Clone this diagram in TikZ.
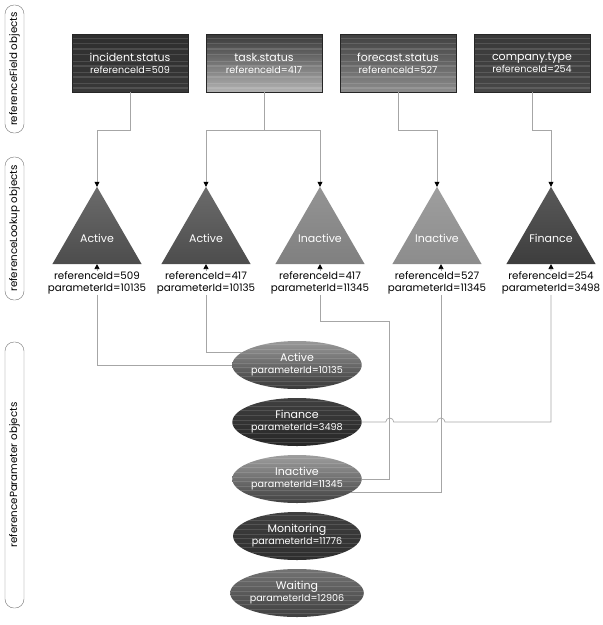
\documentclass[tikz,border=0pt]{standalone}
\usepackage{fontspec}
\setmainfont{Poppins}
\usetikzlibrary{shapes.geometric,positioning,calc,arrows.meta}

\newcommand{\ttl}[1]{{\fontsize{11}{13}\selectfont #1}}
\newcommand{\subtxt}[1]{{\fontsize{9.6}{12}\selectfont #1}}

\tikzset{
  band/.style={draw=black!55, rotate=90, rounded corners=9pt, minimum height=19pt,
    inner sep=0pt, font=\fontsize{10.3}{11}\selectfont},
  stripes/.style={path picture={
      \foreach \f in {0.08,0.17,0.26,0.36,0.47,0.55,0.66,0.74,0.85,0.93}
        \draw[white, opacity=0.13, line width=1.2pt]
          ($(path picture bounding box.north west)!\f!(path picture bounding box.south west)$) --
          ($(path picture bounding box.north east)!\f!(path picture bounding box.south east)$);}},
  fieldbox/.style={draw=black!85, line width=0.6pt, minimum width=116pt, minimum height=58pt,
    inner sep=0pt, outer sep=0pt, text=white, align=center, stripes},
  lookup/.style={regular polygon, regular polygon sides=3, minimum size=103pt,
    inner sep=0pt, outer sep=0pt, text=white, font=\fontsize{11}{13}\selectfont},
  param/.style={ellipse, minimum width=125pt, minimum height=48pt, inner sep=0pt,
    outer sep=0pt, text=white, align=center, stripes},
  lbl/.style={fill=white, inner sep=0.5pt, align=center, font=\fontsize{10.3}{12}\selectfont},
  conn/.style={draw=black!35, line width=0.7pt},
}

\begin{document}
\begin{tikzpicture}[x=1pt, y=-1pt, >={Triangle[length=5pt,width=5pt,color=black]}]
  \useasboundingbox (0,0) rectangle (603,625);

  % bands
  \node[band, minimum width=128pt] (b1) at (14.5,69) {referenceField objects};
  \node[band, minimum width=143pt] (b2) at (14.5,228.5) {referenceLookup objects};
  \node[band, minimum width=266pt] (b3) at (14.5,475) {referenceParameter objects};

  % referenceField row
  \node[fieldbox, top color=black!82, bottom color=black!78] (f1) at (130,63)
    {\ttl{incident.status}\\\subtxt{referenceId=509}};
  \node[fieldbox, top color=black!78, bottom color=black!30, right=18pt of f1] (f2)
    {\ttl{task.status}\\\subtxt{referenceId=417}};
  \node[fieldbox, top color=black!75, bottom color=black!45, right=18pt of f2] (f3)
    {\ttl{forecast.status}\\\subtxt{referenceId=527}};
  \node[fieldbox, top color=black!78, bottom color=black!72, right=18pt of f3] (f4)
    {\ttl{company.type}\\\subtxt{referenceId=254}};

  % referenceLookup row
  \node[lookup, top color=black!58, bottom color=black!70] (t1) at (97,238.3) {\makebox[0pt]{Active}};
  \node[lookup, top color=black!58, bottom color=black!70] (t2) at (206,238.3) {\makebox[0pt]{Active}};
  \node[lookup, top color=black!42, bottom color=black!50] (t3) at (320,238.3) {\makebox[0pt]{Inactive}};
  \node[lookup, top color=black!38, bottom color=black!45] (t4) at (437,238.3) {\makebox[0pt]{Inactive}};
  \node[lookup, top color=black!65, bottom color=black!76] (t5) at (551,238.3) {\makebox[0pt]{Finance}};

  % referenceParameter column
  \node[param, top color=black!40, bottom color=black!78] (act) at (297,365)
    {\ttl{Active}\\\subtxt{parameterId=10135}};
  \node[param, top color=black!75, bottom color=black!85, below=9pt of act] (fin)
    {\ttl{Finance}\\\subtxt{parameterId=3498}};
  \node[param, top color=black!38, bottom color=black!75, below=9pt of fin] (ina)
    {\ttl{Inactive}\\\subtxt{parameterId=11345}};
  \node[param, top color=black!75, bottom color=black!82, below=9pt of ina] (mon)
    {\ttl{Monitoring}\\\subtxt{parameterId=11776}};
  \node[param, top color=black!55, bottom color=black!75, below=9pt of mon] (wai)
    {\ttl{Waiting}\\\subtxt{parameterId=12906}};

  % field -> lookup
  \draw[conn, ->] (f1.south) -- ++(0,38) -| (t1.north);
  \draw[conn, ->] (f2.south) -- ++(0,38) -| (t2.north);
  \draw[conn, ->] (f2.south) -- ++(0,38) -| (t3.north);
  \draw[conn, ->] (f3.south) -- ++(0,38) -| (t4.north);
  \draw[conn, ->] (f4.south) -- ++(0,38) -| (t5.north);

  % lookup -> parameter
  \coordinate (k3) at ([xshift=28pt]ina.east);
  \coordinate (k4) at ([xshift=4pt]t4.south);
  \draw[conn, <-] (t1.south) |- (act.west);
  \draw[conn, <-] (t2.south) |- (act.167);
  \draw[conn, <-] (t3.south) -- ++(0,57) -| (k3) -- (ina.east);
  \draw[conn, <-] (k4) |- (ina.-14);
  \draw[conn, <-] (t5.south) -- (t5.south |- fin.east)
    -- ($(k4 |- fin.east)+(4,0)$) arc[start angle=0, end angle=-180, radius=4]
    -- ($(k3 |- fin.east)+(4,0)$) arc[start angle=0, end angle=-180, radius=4]
    -- (fin.east);

  % lookup ids
  \node[lbl, below=7pt of t1.south] (l1) {referenceId=509\\parameterId=10135};
  \node[lbl, below=7pt of t2.south] (l2) {referenceId=417\\parameterId=10135};
  \node[lbl, below=7pt of t3.south] (l3) {referenceId=417\\parameterId=11345};
  \node[lbl, below=7pt of t4.south] (l4) {referenceId=527\\parameterId=11345};
  \node[lbl, below=7pt of t5.south] (l5) {referenceId=254\\parameterId=3498};
\end{tikzpicture}
\end{document}
